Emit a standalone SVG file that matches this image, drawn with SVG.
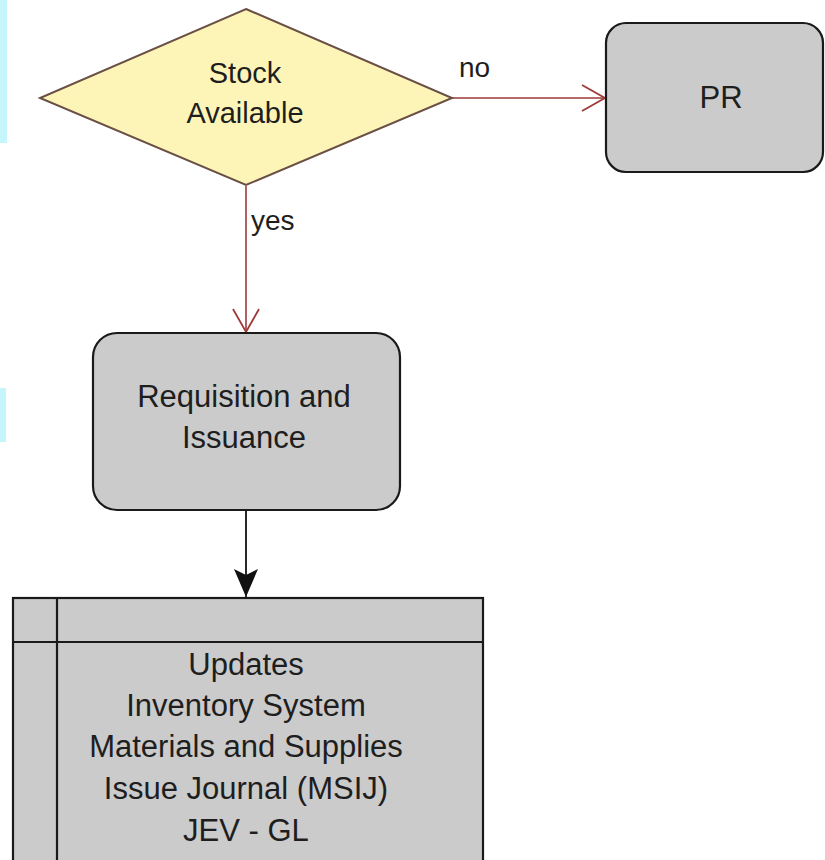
<svg xmlns="http://www.w3.org/2000/svg" width="825" height="860" viewBox="0 0 825 860">
  <style>
    text { font-family: "Liberation Sans", Arial, sans-serif; fill: #1e1e1e; text-anchor: middle; }
    .big { font-size: 31px; }
    .mid { font-size: 29px; }
    .lbl { font-size: 28px; text-anchor: start; }
    .box { fill: #cbcbcb; stroke: #1a1a1a; stroke-width: 2.2; }
    .flow-red { fill: none; stroke: #9e3a3a; stroke-width: 1.6; }
    .flow-black { fill: none; stroke: #111111; stroke-width: 1.8; }
  </style>
  <defs>
    <marker id="open-red" markerWidth="26" markerHeight="30" refX="24" refY="14" orient="auto" markerUnits="userSpaceOnUse">
      <path d="M1,1 L24,14 L1,27" fill="none" stroke="#9e3a3a" stroke-width="1.8"/>
    </marker>
    <marker id="solid-black" markerWidth="26" markerHeight="26" refX="28" refY="12" orient="auto" markerUnits="userSpaceOnUse">
      <path d="M0,0 L28,12 L0,24 L6,12 Z" fill="#111111"/>
    </marker>
  </defs>

  <rect width="825" height="860" fill="#ffffff"/>
  <!-- light cyan edge strips on the left -->
  <rect x="0" y="0" width="7" height="143" fill="#c5f6fb"/>
  <rect x="0" y="388" width="6" height="54" fill="#c5f6fb"/>

  <g id="connectors">
    <line class="flow-red" x1="452" y1="98" x2="605" y2="98" marker-end="url(#open-red)"/>
    <text class="lbl" x="459" y="77">no</text>
    <line class="flow-red" x1="246" y1="186" x2="246" y2="332" marker-end="url(#open-red)"/>
    <text class="lbl" x="251" y="230">yes</text>
    <line class="flow-black" x1="246" y1="511" x2="246" y2="597" marker-end="url(#solid-black)"/>
  </g>

  <g id="decision-stock">
    <polygon points="246,9 452,98 246,185 40,98" fill="#fdf5b8" stroke="#6a4f45" stroke-width="2"/>
    <text class="mid" x="245" y="83">Stock</text>
    <text class="mid" x="245" y="123">Available</text>
  </g>

  <g id="node-pr">
    <rect class="box" x="606" y="23" width="217" height="149" rx="20" ry="20"/>
    <text class="big" x="721" y="108">PR</text>
  </g>

  <g id="node-requisition">
    <rect class="box" x="93" y="333" width="307" height="177" rx="24" ry="24"/>
    <text class="big" x="244" y="407">Requisition and</text>
    <text class="big" x="244" y="448">Issuance</text>
  </g>

  <g id="node-updates">
    <rect class="box" x="13" y="598" width="470" height="280"/>
    <line x1="57" y1="598" x2="57" y2="878" stroke="#1a1a1a" stroke-width="2.2"/>
    <line x1="13" y1="642" x2="483" y2="642" stroke="#1a1a1a" stroke-width="2.2"/>
    <text class="big" x="246" y="675">Updates</text>
    <text class="big" x="246" y="716">Inventory System</text>
    <text class="big" x="246" y="757">Materials and Supplies</text>
    <text class="big" x="246" y="799">Issue Journal (MSIJ)</text>
    <text class="big" x="246" y="841">JEV - GL</text>
  </g>
</svg>
